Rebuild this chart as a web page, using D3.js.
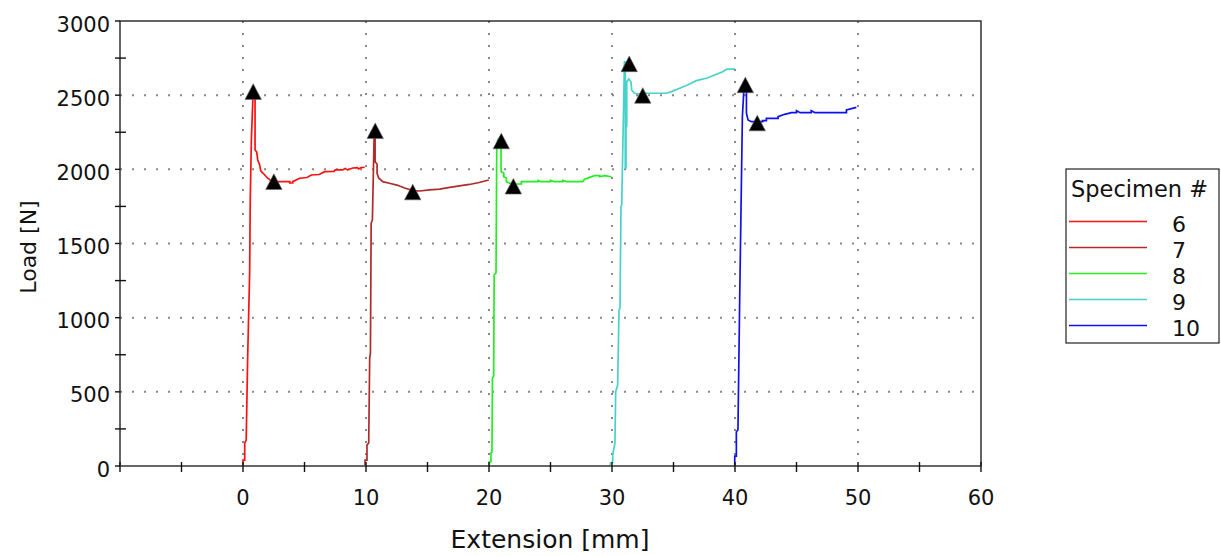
<!DOCTYPE html>
<html>
<head>
<meta charset="utf-8">
<script src="https://cdn.jsdelivr.net/npm/d3@7/dist/d3.min.js"></script>
<style>
  html, body { margin: 0; padding: 0; background: #fff; }
  svg { display: block; }
  text { font-family: "DejaVu Sans", Verdana, sans-serif; fill: #111; }
</style>
</head>
<body>
<svg id="chart" width="1221" height="556"></svg>
<script>
// ---------- DATA ----------
const specimens = ["6", "7", "8", "9", "10"];
const colors = ["#ff1010", "#b02a2a", "#22ee22", "#48d1cc", "#1010ee"];

const xTicks = [-10, 0, 10, 20, 30, 40, 50, 60];
const xTickLabels = ["", "0", "10", "20", "30", "40", "50", "60"];
const xMinorTicks = [-5, 5, 15, 25, 35, 45, 55];
const yTicks = [0, 500, 1000, 1500, 2000, 2500, 3000];
const yTickLabels = ["0", "500", "1000", "1500", "2000", "2500", "3000"];
const yMinorTicks = [250, 750, 1250, 1750, 2250, 2750];
const xGrid = [0, 10, 20, 30, 40, 50];
const yGrid = [500, 1000, 1500, 2000, 2500];

// [extension mm, load N]
const spec6 = [
  [0,0],[0,40],[0.14,40],[0.14,155],[0.26,175],[0.38,735],[0.54,1300],[0.59,1790],
  [0.68,2200],[0.83,2535],[0.98,2520],[0.98,2130],[1.11,2117],[1.2,2063],[1.36,2030],
  [1.44,1990],[1.68,1970],[2.01,1940],[2.33,1920],[2.72,1917],[3.8,1917],[3.8,1908],
  [4.04,1908],[4.04,1917],[4.61,1940],[5.2,1945],[5.56,1962],[6.2,1965],[6.64,1984],
  [7.4,1986],[7.5,1996],[8.1,1996],[8.3,2005],[8.5,1996],[8.92,2009],[9.3,2012],[9.4,2003],
  [9.6,2012],[9.89,2014]
];
const spec7 = [
  [9.92,0],[9.92,40],[10.08,40],[10.08,142],[10.22,155],[10.3,728],[10.36,762],[10.42,1638],
  [10.52,1658],[10.67,2265],[10.74,2258],[10.74,2051],[10.9,2036],[10.9,1973],[11.03,1942],
  [11.36,1917],[11.9,1906],[12.52,1894],[13.15,1874],[13.8,1857],[14.37,1854],[15.18,1861],
  [15.99,1867],[16.8,1878],[17.6,1888],[18.4,1898],[19.2,1911],[19.98,1928]
];
const spec8 = [
  [20.03,0],[20.03,29],[20.16,29],[20.16,88],[20.24,94],[20.28,593],[20.38,607],[20.42,1288],
  [20.57,1301],[20.63,2130],[20.71,2198],[20.83,2211],[20.98,2130],[20.98,1984],[21.2,1975],
  [21.2,1950],[21.41,1942],[21.41,1917],[21.68,1906],[22.09,1901],[22.63,1901],[22.63,1917],
  [24.0,1917],[24.0,1925],[24.2,1917],[25.0,1917],[25.0,1925],[25.3,1917],[26.0,1917],
  [26.0,1925],[26.3,1917],[27.62,1917],[27.78,1933],[28.19,1946],[28.59,1957],[29.0,1957],
  [29.0,1950],[29.4,1957],[29.95,1950]
];
const spec9 = [
  [29.87,0],[29.87,20],[30.06,27],[30.06,74],[30.24,155],[30.3,501],[30.46,546],[30.57,1052],
  [30.65,1065],[30.73,1748],[30.79,1760],[30.91,2277],[31.01,2724],[31.08,2724],[31.08,2009],
  [31.14,2009],[31.14,2279],[31.2,2292],[31.2,2591],[31.36,2609],[31.55,2589],[31.6,2535],
  [31.82,2513],[32.25,2508],[32.8,2513],[34.42,2513],[34.83,2524],[35.5,2547],[36.15,2569],
  [36.86,2598],[37.67,2614],[38.35,2636],[39.0,2658],[39.3,2674],[39.98,2677]
];
const spec10 = [
  [39.98,0],[39.98,67],[40.11,67],[40.11,231],[40.24,243],[40.38,1119],[40.6,2355],
  [40.75,2582],[40.93,2582],[40.93,2378],[41.06,2333],[41.33,2321],[42.25,2321],[42.25,2328],
  [42.55,2328],[42.55,2344],[43.5,2344],[43.5,2355],[44.04,2371],[44.59,2382],[45.0,2382],
  [45.0,2395],[45.3,2382],[46.2,2382],[46.2,2395],[46.5,2382],[49.06,2382],[49.06,2400],
  [49.87,2418]
];
const series = [spec6, spec7, spec8, spec9, spec10];

// markers [extension, load]
const markers6 = [[0.83, 2524], [2.51, 1917]];
const markers7 = [[10.75, 2260], [13.8, 1847]];
const markers8 = [[21.0, 2191], [21.98, 1886]];
const markers9 = [[31.4, 2711], [32.5, 2498]];
const markers10 = [[40.84, 2569], [41.81, 2312]];
const markers = [markers6, markers7, markers8, markers9, markers10];

// ---------- CHART ----------
const svg = d3.select("#chart");
const L = 120, R = 981, T = 21, B = 466;
const x = d3.scaleLinear().domain([-10, 60]).range([L, R]);
const y = d3.scaleLinear().domain([0, 3000]).range([B, T]);

// grid
const grid = svg.append("g").attr("stroke", "#888").attr("stroke-width", 2)
  .attr("stroke-dasharray", "2,10");
grid.selectAll(".gx").data(xGrid).enter().append("line")
  .attr("x1", d => x(d)).attr("x2", d => x(d)).attr("y1", T).attr("y2", B);
grid.selectAll(".gy").data(yGrid).enter().append("line")
  .attr("y1", d => y(d)).attr("y2", d => y(d)).attr("x1", L).attr("x2", R);

// curves
const line = d3.line().x(d => x(d[0])).y(d => y(d[1]));
series.forEach((s, i) => {
  svg.append("path").attr("d", line(s)).attr("fill", "none")
    .attr("stroke", colors[i]).attr("stroke-width", 1.7);
});

// markers (triangles)
const tri = (cx, cy) => {
  const w = 8.2, h = 7.8;
  return `M${cx},${cy - h}L${cx + w},${cy + h}L${cx - w},${cy + h}Z`;
};
markers.forEach(ms => {
  ms.forEach(m => {
    svg.append("path").attr("d", tri(x(m[0]), y(m[1])))
      .attr("fill", "#000").attr("stroke", "#666").attr("stroke-width", 0.6);
  });
});

// frame
svg.append("rect").attr("x", L).attr("y", T).attr("width", R - L).attr("height", B - T)
  .attr("fill", "none").attr("stroke", "#222").attr("stroke-width", 1.4);
svg.append("line").attr("x1", L).attr("x2", R).attr("y1", B).attr("y2", B)
  .attr("stroke", "#666").attr("stroke-width", 2);

// x axis ticks
const xa = svg.append("g").attr("stroke", "#111").attr("stroke-width", 1.4);
xa.selectAll(".xt").data(xTicks.concat(xMinorTicks)).enter().append("line")
  .attr("x1", d => x(d)).attr("x2", d => x(d)).attr("y1", B - 4).attr("y2", B + 6);
svg.selectAll(".xl").data(xTicks).enter().append("text")
  .attr("x", d => x(d)).attr("y", 505).attr("text-anchor", "middle")
  .attr("font-size", 21).text((d, i) => xTickLabels[i]);

// y axis ticks
const ya = svg.append("g").attr("stroke", "#111").attr("stroke-width", 1.4);
ya.selectAll(".yt").data(yTicks).enter().append("line")
  .attr("y1", d => y(d)).attr("y2", d => y(d)).attr("x1", L - 5).attr("x2", L);
ya.selectAll(".ym").data(yMinorTicks).enter().append("line")
  .attr("y1", d => y(d)).attr("y2", d => y(d)).attr("x1", L - 5).attr("x2", L + 6);
svg.selectAll(".yl").data(yTicks).enter().append("text")
  .attr("x", 110).attr("y", d => y(d) + 10.5).attr("text-anchor", "end")
  .attr("font-size", 21).text((d, i) => yTickLabels[i]);

// axis titles
svg.append("text").attr("x", 550).attr("y", 548).attr("text-anchor", "middle")
  .attr("font-size", 25).text("Extension [mm]");
svg.append("text").attr("transform", "translate(36,247) rotate(-90)")
  .attr("text-anchor", "middle").attr("font-size", 22).text("Load [N]");

// legend
const lg = svg.append("g");
lg.append("rect").attr("x", 1066).attr("y", 169).attr("width", 153).attr("height", 174)
  .attr("fill", "#fff").attr("stroke", "#222").attr("stroke-width", 1.2);
lg.append("text").attr("x", 1071).attr("y", 197).attr("font-size", 22.5).text("Specimen #");
specimens.forEach((s, i) => {
  const yy = 221.5 + i * 26;
  lg.append("line").attr("x1", 1069).attr("x2", 1147).attr("y1", yy).attr("y2", yy)
    .attr("stroke", colors[i]).attr("stroke-width", 1.6);
  lg.append("text").attr("x", 1172).attr("y", yy + 10.5).attr("font-size", 22).text(s);
});
</script>
</body>
</html>
